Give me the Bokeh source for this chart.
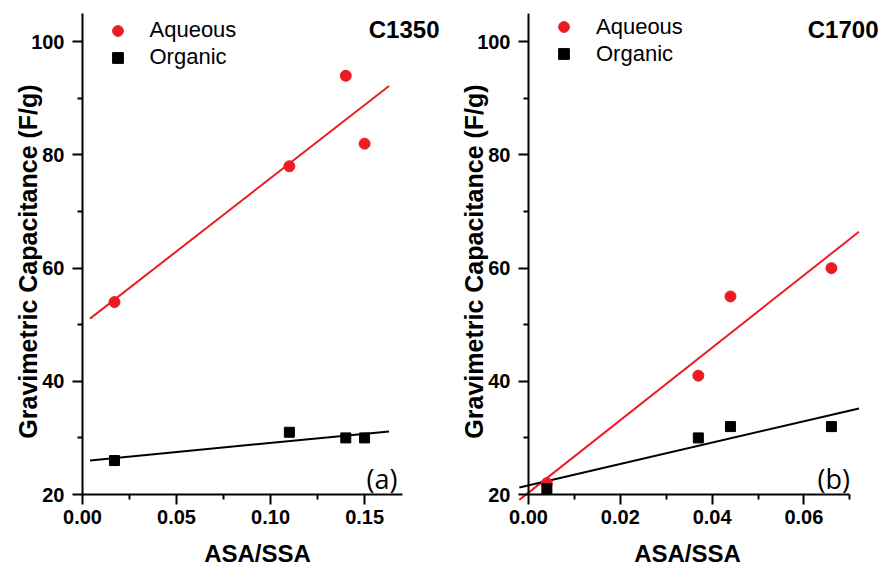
import numpy as np
from bokeh.plotting import figure
from bokeh.layouts import row
from bokeh.models import (Range1d, Legend, LegendItem, Label, FixedTicker,
                          NumeralTickFormatter)
from bokeh.embed import file_html
from bokeh.resources import INLINE

# ---- Panel (a): C1350 ----
a_ratio = [0.017, 0.11, 0.14, 0.15]
a_aqueous = [54, 78, 94, 82]
a_organic = [26, 31, 30, 30]
a_fit_span = [0.004, 0.163]
a_x_ticks = [0.0, 0.05, 0.10, 0.15]
a_x_minor = [0.025, 0.075, 0.125]

# ---- Panel (b): C1700 ----
b_ratio = [0.004, 0.037, 0.044, 0.066]
b_aqueous = [22, 41, 55, 60]
b_organic = [21, 30, 32, 32]
b_fit_span = [-0.002, 0.072]
b_x_ticks = [0.0, 0.02, 0.04, 0.06]
b_x_minor = [0.01, 0.03, 0.05, 0.07]

y_ticks = [20, 40, 60, 80, 100]
y_minor = [30, 50, 70, 90]
Y_MIN, Y_MAX = 20, 105

RED = "#ec1c24"
FONT = "Liberation Sans"
H = 569
# vertical placement of the axes box: top of y axis at 13 px, x axis at 494 px
Y_TOP_PX, Y_BOT_PX = 13, 494


def style_axis(ax):
    ax.axis_line_width = 2
    ax.axis_line_color = "black"
    ax.major_tick_line_width = 2
    ax.minor_tick_line_width = 2
    ax.major_tick_out = 10
    ax.major_tick_in = 0
    ax.minor_tick_out = 5
    ax.minor_tick_in = 0
    ax.major_label_text_font = FONT
    ax.major_label_text_font_style = "bold"
    ax.major_label_text_font_size = "20px"
    ax.major_label_text_color = "black"


def panel(xs, aq, org, fit_span, xmax, width, axis_px, axis_len_px,
          xticks, xminor, name, tag, leg_x, leg_y, tag_x, name_x,
          xlab_x, ylab_x):
    ppx = axis_len_px / xmax                 # px per x unit
    ppy = (Y_BOT_PX - Y_TOP_PX) / (Y_MAX - Y_MIN)
    x0 = -axis_px / ppx
    x1 = (width - axis_px) / ppx
    y0 = Y_MIN - (H - Y_BOT_PX) / ppy
    y1 = Y_MAX + Y_TOP_PX / ppy
    p = figure(width=width, height=H, x_range=Range1d(x0, x1),
               y_range=Range1d(y0, y1), output_backend="svg",
               toolbar_location=None, min_border=0)
    p.outline_line_color = None
    p.grid.visible = False
    p.background_fill_color = "white"
    p.border_fill_color = "white"

    p.xaxis.ticker = FixedTicker(ticks=xticks, minor_ticks=xminor)
    p.yaxis.ticker = FixedTicker(ticks=y_ticks, minor_ticks=y_minor)
    p.xaxis.formatter = NumeralTickFormatter(format="0.00")
    p.xaxis.bounds = (0, xmax)
    p.yaxis.bounds = (Y_MIN, Y_MAX)
    p.xaxis.fixed_location = Y_MIN
    p.yaxis.fixed_location = 0
    for ax in (p.xaxis[0], p.yaxis[0]):
        style_axis(ax)
    p.xaxis.major_label_standoff = 5
    p.yaxis.major_label_standoff = 8

    fx = np.array(fit_span)
    k_aq, b_aq = np.polyfit(xs, aq, 1)
    k_org, b_org = np.polyfit(xs, org, 1)
    p.line(fx, k_aq * fx + b_aq, line_color=RED, line_width=2)
    p.line(fx, k_org * fx + b_org, line_color="black", line_width=2)

    r_aq = p.scatter(xs, aq, marker="circle", size=11, fill_color=RED,
                     line_color=RED)
    r_org = p.scatter(xs, org, marker="square", size=10, fill_color="black",
                      line_color="black")

    legend = Legend(items=[LegendItem(label="Aqueous", renderers=[r_aq]),
                           LegendItem(label="Organic", renderers=[r_org])],
                    location=(leg_x, leg_y))
    legend.glyph_width = 27
    legend.glyph_height = 27
    legend.label_height = 27
    legend.spacing = 0
    legend.padding = 0
    legend.margin = 0
    legend.label_standoff = 19
    legend.label_text_font = FONT
    legend.label_text_font_size = "22px"
    legend.label_text_color = "black"
    legend.border_line_color = None
    legend.background_fill_alpha = 0
    p.add_layout(legend, "center")

    # axis titles
    p.add_layout(Label(x=xlab_x, y=H - 553, x_units="screen", y_units="screen",
                       text="ASA/SSA", text_align="center",
                       text_baseline="middle", text_font=FONT,
                       text_font_style="bold", text_font_size="24px",
                       text_color="black"))
    p.add_layout(Label(x=ylab_x, y=H - 261, x_units="screen",
                       y_units="screen", angle=np.pi / 2,
                       text="Gravimetric Capacitance (F/g)",
                       text_align="center", text_baseline="middle",
                       text_font=FONT, text_font_style="bold",
                       text_font_size="25px", text_color="black"))

    p.add_layout(Label(x=name_x, y=H - 29, x_units="screen", y_units="screen",
                       text=name, text_align="right", text_baseline="middle",
                       text_font=FONT, text_font_style="bold",
                       text_font_size="24px", text_color="black"))
    p.add_layout(Label(x=tag_x, y=H - 478, x_units="screen", y_units="screen",
                       text=tag, text_align="right", text_baseline="middle",
                       text_font="Open Sans", text_font_size="27px",
                       text_color="black"))
    return p


# left panel spans 0..450 px; y axis at 82 px, x axis 0..0.17 over 319.7 px
p1 = panel(a_ratio, a_aqueous, a_organic, a_fit_span, 0.17, 450, 82, 319.7,
           a_x_ticks, a_x_minor, "C1350", "(a)",
           103.5, H - 70.5, 397, 439, 257, 27.5)
# right panel spans 450..882 px; y axis at 528 px, 0..0.07 over 321.3 px
p2 = panel(b_ratio, b_aqueous, b_organic, b_fit_span, 0.07, 432, 78, 321.3,
           b_x_ticks, b_x_minor, "C1700", "(b)",
           100, H - 67, 399.5, 428, 237, 23.5)

layout = row(p1, p2, spacing=0)
open("out.html", "w").write(file_html(layout, INLINE))
